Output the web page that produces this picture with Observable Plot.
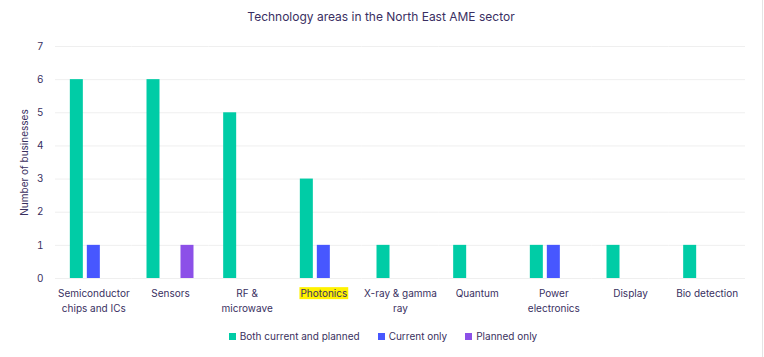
<!DOCTYPE html>
<html>
<head>
<meta charset="utf-8">
<script src="https://cdn.jsdelivr.net/npm/d3@7"></script>
<script src="https://cdn.jsdelivr.net/npm/@observablehq/plot@0.6"></script>
<style>
  html, body { margin: 0; padding: 0; background: #fff; }
  #wrap { position: relative; width: 762px; height: 357px; border-right: 1px solid #e4e4e4; font-family: Inter, "Noto Sans", sans-serif; color: #39305f; }
  #title { height: 26px; padding-top: 4px; line-height: 26px; text-align: center; font-size: 12px; color: #3a2f62; }
  #legend { display: flex; justify-content: center; align-items: center; gap: 18px; height: 12px; line-height: 12px; font-size: 10px; color: #3a3160; margin-left: 4px; }
  #legend .item { display: flex; align-items: center; gap: 4px; }
  #legend .sw { width: 7px; height: 7px; display: inline-block; }
  svg { display: block; }
</style>
</head>
<body>
<div id="wrap">
  <div id="title">Technology areas in the North East AME sector</div>
  <div id="chart"></div>
  <div id="legend"></div>
</div>
<script>
const categories = ["Semiconductor chips and ICs", "Sensors", "RF & microwave", "Photonics", "X-ray & gamma ray", "Quantum", "Power electronics", "Display", "Bio detection"];
const categoryLabels = ["Semiconductor\nchips and ICs", "Sensors", "RF &\nmicrowave", "Photonics", "X-ray & gamma\nray", "Quantum", "Power\nelectronics", "Display", "Bio detection"];
const series = ["Both current and planned", "Current only", "Planned only"];
const bothValues = [6, 6, 5, 3, 1, 1, 1, 1, 1];
const currentValues = [1, 0, 0, 1, 0, 0, 1, 0, 0];
const plannedValues = [0, 1, 0, 0, 0, 0, 0, 0, 0];
const colors = ["#00cca6", "#4757ff", "#8c50e8"];
const yTicks = [0, 1, 2, 3, 4, 5, 6, 7];
const highlighted = "Photonics";

const valuesBySeries = [bothValues, currentValues, plannedValues];
const data = [];
categories.forEach((c, i) => {
  series.forEach((s, j) => {
    data.push({category: c, series: s, value: valuesBySeries[j][i]});
  });
});
const labelOf = new Map(categories.map((c, i) => [c, categoryLabels[i]]));

const chart = Plot.plot({
  width: 762,
  height: 300,
  marginLeft: 55,
  marginRight: 17,
  marginTop: 16,
  marginBottom: 52,
  style: {fontFamily: "Inter, 'Noto Sans', sans-serif", fontSize: "10px", color: "#39305f", background: "transparent"},
  fx: {domain: categories, padding: 0, round: false, label: null, axis: null},
  x: {domain: series, paddingInner: 0.235, paddingOuter: 0.873, round: false, axis: null},
  y: {domain: [0, 7]},
  color: {domain: series, range: colors},
  marks: [
    Plot.gridY(yTicks, {stroke: "#efefef", strokeOpacity: 1, strokeWidth: 1}),
    Plot.axisY(yTicks, {tickSize: 0, tickPadding: 12, label: "Number of businesses", labelAnchor: "center", labelOffset: 35, labelArrow: false, fill: "#39305f"}),
    Plot.axisFx({anchor: "bottom", tickSize: 0, tickPadding: 8, tickFormat: d => labelOf.get(d), lineHeight: 1.5, label: null, fill: "#39305f", fontSize: 10}),
    Plot.barY(data.filter(d => d.value > 0), {fx: "category", x: "series", y: "value", fill: "series"})
  ]
});
document.getElementById("chart").appendChild(chart);

// highlight label background
chart.querySelectorAll("text").forEach(t => {
  if (t.textContent === highlighted) {
    const b = t.getBBox();
    const r = document.createElementNS("http://www.w3.org/2000/svg", "rect");
    r.setAttribute("x", b.x - 1);
    r.setAttribute("y", b.y);
    r.setAttribute("width", b.width + 2);
    r.setAttribute("height", b.height);
    r.setAttribute("fill", "#fff200");
    if (t.getAttribute("transform")) r.setAttribute("transform", t.getAttribute("transform"));
    t.parentNode.insertBefore(r, t);
  }
});

const legend = document.getElementById("legend");
series.forEach((s, i) => {
  const item = document.createElement("div");
  item.className = "item";
  const sw = document.createElement("span");
  sw.className = "sw";
  sw.style.background = colors[i];
  const lab = document.createElement("span");
  lab.textContent = s;
  item.appendChild(sw);
  item.appendChild(lab);
  legend.appendChild(item);
});
</script>
</body>
</html>
